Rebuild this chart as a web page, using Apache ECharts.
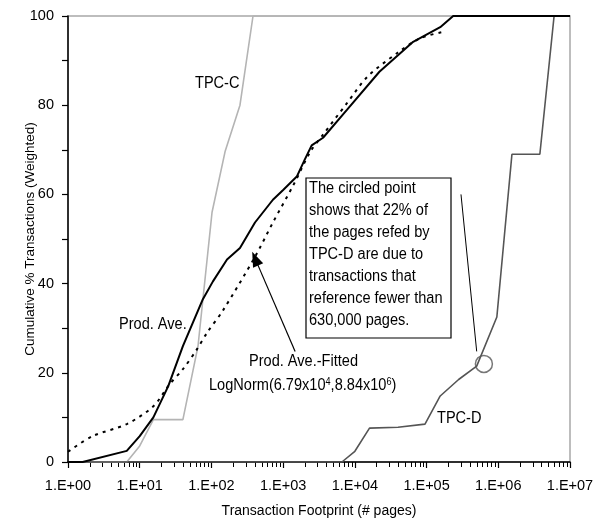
<!DOCTYPE html>
<html>
<head>
<meta charset="utf-8">
<script src="https://cdn.jsdelivr.net/npm/echarts@6/dist/echarts.min.js"></script>
<style>
  html, body { margin: 0; padding: 0; background: #fff; }
  #chart { width: 600px; height: 523px; }
</style>
</head>
<body>
<div id="chart"></div>
<script>
// values (x = pages, y = cumulative %)
var prodX = [1, 1.6, 6.6, 10, 15.5, 25, 40, 76, 105, 165, 250, 405, 720, 1000, 1550, 2000, 2500, 3600, 7800, 22000, 65000, 155000, 235000, 1e7];
var prodY = [0, 0, 2.5, 5.8, 10, 17, 26, 36.5, 40.5, 45.4, 48, 53.7, 58.8, 61, 64, 67.8, 71, 72.7, 79, 87.5, 94.2, 97.5, 100, 100];

var fitX = [1, 2.2, 6.6, 15.5, 26, 40, 63, 87, 145, 405, 720, 1380, 2400, 3600, 7800, 15000, 39000, 81000, 166000];
var fitY = [2.3, 5.8, 8.5, 12.5, 17.4, 20.8, 25.3, 29, 34, 46, 53.7, 62, 69.6, 73.4, 80.5, 86.4, 91.7, 95, 96.4];

var tpccX = [1, 6.6, 10, 15.5, 40, 65, 102, 155, 250, 380, 1e7];
var tpccY = [0, 0, 3.6, 9.5, 9.5, 26, 56, 69.6, 80, 100, 100];

var tpcdX = [1, 6600, 10000, 16000, 40000, 95000, 155000, 280000, 500000, 955000, 1550000, 3800000, 6000000, 1e7];
var tpcdY = [0, 0, 2.4, 7.6, 7.8, 8.5, 14.8, 18.5, 21.5, 32.5, 69, 69, 100, 100];

var circled = [630000, 22];

var font = "'Liberation Sans', Arial, sans-serif";
var narrow = 0.91;

function pairs(xs, ys) {
    var out = [];
    for (var i = 0; i < xs.length; i++) {
        out.push([xs[i], ys[i]]);
    }
    return out;
}

// minor ticks 2..9 of every decade
var minorTicks = [];
for (var d = 0; d < 7; d++) {
    for (var m = 2; m <= 9; m++) {
        minorTicks.push([m * Math.pow(10, d), 0]);
    }
}

// a free-floating label, squeezed a bit to look like a narrow face
function note(x, y, text, extra) {
    var style = {
        text: text, font: '16px ' + font, fill: '#000',
        align: 'left', verticalAlign: 'top'
    };
    if (extra) {
        for (var k in extra) style[k] = extra[k];
    }
    return { type: 'text', x: x, y: y, scaleX: narrow, z: 100, style: style };
}

var myChart = echarts.init(document.getElementById('chart'));

var option = {
    animation: false,
    backgroundColor: '#fff',
    textStyle: { fontFamily: font },
    grid: {
        left: 68, right: 30, top: 16, bottom: 60,
        show: true, borderColor: '#a8a8a8', borderWidth: 1.5
    },
    xAxis: {
        type: 'log', logBase: 10, min: 1, max: 1e7,
        name: 'Transaction Footprint (# pages)',
        nameLocation: 'middle', nameGap: 42, nameMoveOverlap: false,
        nameTextStyle: { fontSize: 14, color: '#000', fontFamily: font },
        axisLine: { lineStyle: { color: '#000', width: 1.5 } },
        axisTick: { inside: false, length: 6, lineStyle: { color: '#000', width: 1.2 } },
        axisLabel: {
            fontSize: 14.5, color: '#000', margin: 16, fontFamily: font,
            formatter: function (v) {
                var e = Math.round(Math.log10(v));
                return '1.E+' + (e < 10 ? '0' : '') + e;
            }
        },
        splitLine: { show: false },
        minorTick: { show: false }
    },
    yAxis: {
        type: 'value', min: 0, max: 100, interval: 10,
        name: 'Cumulative % Transactions (Weighted)',
        nameLocation: 'middle', nameGap: 31, nameMoveOverlap: false,
        nameTextStyle: { fontSize: 13.5, color: '#000', fontFamily: font },
        axisLine: { show: true, lineStyle: { color: '#000', width: 1.5 } },
        axisTick: { show: true, length: 6, lineStyle: { color: '#000', width: 1.2 } },
        axisLabel: {
            fontSize: 14.5, color: '#000', margin: 14, fontFamily: font,
            formatter: function (v) { return v % 20 === 0 ? String(v) : ''; }
        },
        splitLine: { show: false }
    },
    series: [
        {
            // log minor ticks under the x axis
            name: 'minor', type: 'custom', data: minorTicks, silent: true, clip: false, z: 1,
            renderItem: function (params, api) {
                var p = api.coord([api.value(0), api.value(1)]);
                var x = Math.round(p[0]) + 0.5;
                return {
                    type: 'line',
                    shape: { x1: x, y1: p[1], x2: x, y2: p[1] + 5 },
                    style: { stroke: '#000', lineWidth: 1 }
                };
            }
        },
        {
            name: 'TPC-C', type: 'line', data: pairs(tpccX, tpccY),
            showSymbol: false, silent: true,
            lineStyle: { color: '#b4b4b4', width: 1.6 }
        },
        {
            name: 'TPC-D', type: 'line', data: pairs(tpcdX, tpcdY),
            showSymbol: false, silent: true,
            lineStyle: { color: '#555', width: 1.6 },
            markLine: {
                silent: true, symbol: ['none', 'none'],
                label: { show: false },
                lineStyle: { color: '#000', width: 1, type: 'solid' },
                data: [[{ coord: [302000, 60] }, { coord: [500000, 24.8] }]]
            }
        },
        {
            name: 'Prod. Ave.-Fitted', type: 'line', data: pairs(fitX, fitY),
            showSymbol: false, silent: true, smooth: 0.3,
            lineStyle: { color: '#000', width: 2, type: [3, 5] },
            markLine: {
                silent: true, symbol: ['none', 'triangle'], symbolSize: [11, 15],
                label: { show: false },
                lineStyle: { color: '#000', width: 1.2, type: 'solid' },
                data: [[{ coord: [1470, 24.8] }, { coord: [407, 45.6] }]]
            }
        },
        {
            name: 'Prod. Ave.', type: 'line', data: pairs(prodX, prodY),
            showSymbol: false, silent: true,
            lineStyle: { color: '#000', width: 2 }
        },
        {
            name: 'circle', type: 'scatter', data: [circled],
            symbol: 'circle', symbolSize: 17, silent: true,
            itemStyle: { color: 'rgba(0,0,0,0)', borderColor: '#555', borderWidth: 1.5 }
        }
    ],
    graphic: [
        note(195, 76, 'TPC-C'),
        note(119, 317, 'Prod. Ave.'),
        note(249, 354, 'Prod. Ave.-Fitted'),
        note(209, 377, 'LogNorm(6.79x10{sup|4},8.84x10{sup|6})', {
            rich: { sup: { fontSize: 10, fontFamily: font, padding: [0, 0, 8, 0] } }
        }),
        note(437, 411, 'TPC-D'),
        {
            type: 'rect', x: 306, y: 178, z: 99,
            shape: { width: 145, height: 160 },
            style: { fill: '#fff', stroke: '#000', lineWidth: 1.2 }
        },
        note(309, 178,
            'The circled point\nshows that 22% of\nthe pages refed by\nTPC-D are due to\ntransactions that\nreference fewer than\n630,000 pages.',
            { lineHeight: 22 })
    ]
};

myChart.setOption(option);
</script>
</body>
</html>
